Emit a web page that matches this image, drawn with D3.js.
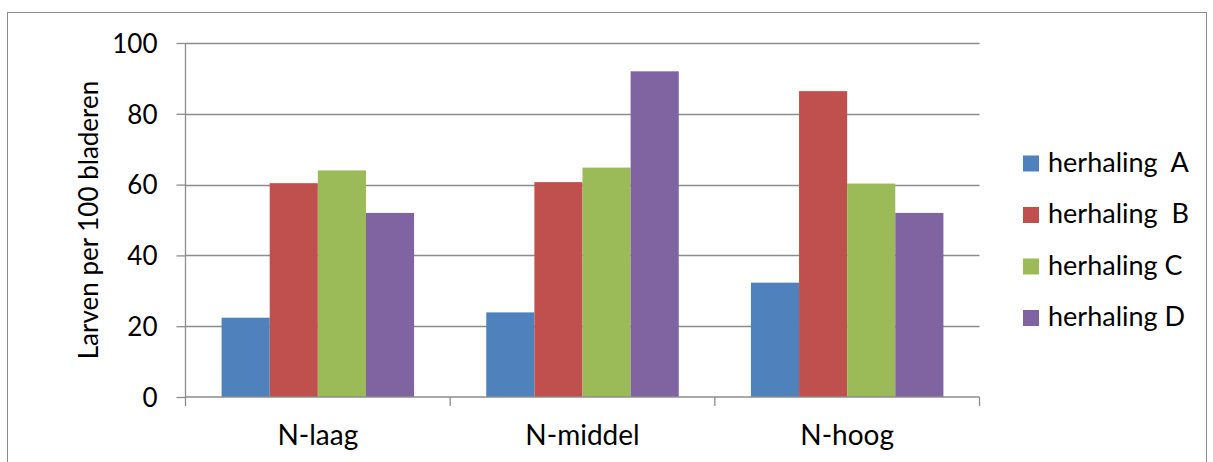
<!DOCTYPE html>
<html><head><meta charset="utf-8">
<script src="https://cdn.jsdelivr.net/npm/d3@7"></script>
<style>body{margin:0;background:#fff}svg{display:block}text{font-family:Lato,"Open Sans",sans-serif;fill:#000}</style>
</head><body><svg id="c" width="1213" height="462"></svg>
<script>
const categories = ["N-laag","N-middel","N-hoog"];
const seriesNames = ["herhaling  A","herhaling  B","herhaling C","herhaling D"];
const herhalingA = [22.4, 23.9, 32.3];
const herhalingB = [60.4, 60.7, 86.4];
const herhalingC = [64.0, 64.8, 60.3];
const herhalingD = [52.0, 92.0, 52.0];
const yTicks = [0,20,40,60,80,100];
const colors = ["#4F81BD","#C0504D","#9BBB59","#8064A2"];
const series = [herhalingA, herhalingB, herhalingC, herhalingD];

const svg = d3.select("#c");
svg.append("rect").attr("x",7.5).attr("y",12.5).attr("width",1199).attr("height",460)
  .attr("fill","none").attr("stroke","#8c8c8c").attr("stroke-width",1);

const L=185.5, R=979.5, T=43, B=397;
const x0 = d3.scaleBand().domain(categories).range([L,R]).padding(0);
const gap = x0.bandwidth()*0.75/5.5;
const x1 = d3.scaleBand().domain(d3.range(4)).range([gap, x0.bandwidth()-gap]).padding(0);
const y = d3.scaleLinear().domain([0,100]).range([B,T]);

// gridlines
svg.append("g").selectAll("line").data(yTicks.filter(d=>d>0)).join("line")
  .attr("x1",L).attr("x2",R).attr("y1",d=>Math.round(y(d))+0.5).attr("y2",d=>Math.round(y(d))+0.5)
  .attr("stroke","#8c8c8c").attr("stroke-width",1.3);

// bars
const g = svg.append("g");
categories.forEach((c,ci)=>{
  series.forEach((s,si)=>{
    g.append("rect").attr("x",x0(c)+x1(si)).attr("width",x1.bandwidth())
      .attr("y",y(s[ci])).attr("height",B-y(s[ci])).attr("fill",colors[si]);
  });
});

// y axis
const ya = svg.append("g").attr("transform",`translate(${L},0)`)
  .call(d3.axisLeft(y).tickValues(yTicks).tickSize(9).tickPadding(19).tickFormat(d3.format("d")));
ya.select(".domain").attr("stroke","#8c8c8c").attr("stroke-width",1.3).attr("d",`M0,${T}V${B}`);
ya.selectAll(".tick line").attr("stroke","#8c8c8c").attr("stroke-width",1.3);
ya.selectAll(".tick text").attr("font-size",26).attr("font-family","Lato").attr("fill","#000").attr("dy","0.36em");

// x axis
const xa = svg.append("g").attr("transform",`translate(0,${B})`)
  .call(d3.axisBottom(x0).tickSize(0).tickPadding(0));
xa.select(".domain").attr("stroke","#8c8c8c").attr("stroke-width",1.3).attr("d",`M${L},0H${R}`);
xa.selectAll(".tick text").attr("font-size",28).attr("font-family","Lato").attr("fill","#000")
  .attr("y",48).attr("dy",0);
const bounds = [L, ...categories.map(c=>x0(c)+x0.bandwidth())];
svg.append("g").selectAll("line").data(bounds).join("line")
  .attr("x1",d=>d).attr("x2",d=>d).attr("y1",B).attr("y2",B+9)
  .attr("stroke","#8c8c8c").attr("stroke-width",1.3);

// y label
svg.append("text").attr("transform","translate(98,220) rotate(-90)")
  .attr("text-anchor","middle").attr("font-size",26).text("Larven per 100 bladeren");

// legend
const leg = svg.append("g");
seriesNames.forEach((n,i)=>{
  const cy = 163.5 + i*51.5;
  leg.append("rect").attr("x",1023).attr("y",cy-8).attr("width",16).attr("height",16).attr("fill",colors[i]);
  leg.append("text").attr("x",1048).attr("y",cy+8).attr("font-size",27)
    .style("white-space","pre").text(n);
});
</script></body></html>
